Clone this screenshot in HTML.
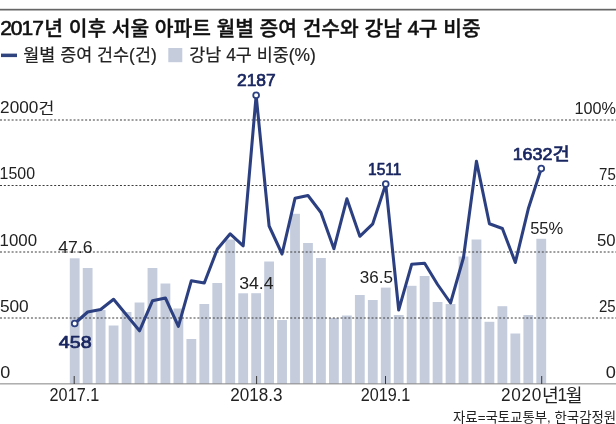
<!DOCTYPE html>
<html lang="ko"><head><meta charset="utf-8"><title>2017년 이후 서울 아파트 월별 증여 건수와 강남 4구 비중</title>
<style>html,body{margin:0;padding:0;background:#fff;overflow:hidden}svg{display:block}text{font-family:"Liberation Sans", "Noto Sans CJK KR", sans-serif;fill:#222}.b{font-weight:500;fill:#111;stroke:#111;stroke-width:.35px;stroke-linejoin:round}.td{font-weight:400;stroke-width:.6px}.l{stroke:#222;stroke-width:.2px}.n{fill:#192660;stroke:#192660;font-weight:500;stroke-width:.7px;stroke-linejoin:round}.nh{stroke-width:.4px}</style></head><body>
<svg width="616" height="424" viewBox="0 0 616 424" role="img" aria-label="2017년 이후 서울 아파트 월별 증여 건수와 강남 4구 비중">
<rect width="616" height="424" fill="#fff"/>
<rect x="0" y="8.8" width="616" height="1.7" fill="#666"/>
<rect x="1" y="53.6" width="16" height="3.5" fill="#30457f"/>
<rect x="168.3" y="48" width="14" height="14.2" fill="#c5cddd"/>
<rect x="69.80" y="258.30" width="9.80" height="125.70" fill="#c5cddd"/>
<rect x="82.76" y="268.00" width="9.80" height="116.00" fill="#c5cddd"/>
<rect x="95.72" y="310.00" width="9.80" height="74.00" fill="#c5cddd"/>
<rect x="108.68" y="325.50" width="9.80" height="58.50" fill="#c5cddd"/>
<rect x="121.64" y="312.00" width="9.80" height="72.00" fill="#c5cddd"/>
<rect x="134.60" y="302.50" width="9.80" height="81.50" fill="#c5cddd"/>
<rect x="147.56" y="268.00" width="9.80" height="116.00" fill="#c5cddd"/>
<rect x="160.52" y="283.50" width="9.80" height="100.50" fill="#c5cddd"/>
<rect x="173.48" y="308.50" width="9.80" height="75.50" fill="#c5cddd"/>
<rect x="186.44" y="339.00" width="9.80" height="45.00" fill="#c5cddd"/>
<rect x="199.40" y="304.00" width="9.80" height="80.00" fill="#c5cddd"/>
<rect x="212.36" y="283.00" width="9.80" height="101.00" fill="#c5cddd"/>
<rect x="225.32" y="239.50" width="9.80" height="144.50" fill="#c5cddd"/>
<rect x="238.28" y="293.30" width="9.80" height="90.70" fill="#c5cddd"/>
<rect x="251.24" y="293.20" width="9.80" height="90.80" fill="#c5cddd"/>
<rect x="264.20" y="261.50" width="9.80" height="122.50" fill="#c5cddd"/>
<rect x="277.16" y="320.00" width="9.80" height="64.00" fill="#c5cddd"/>
<rect x="290.12" y="213.80" width="9.80" height="170.20" fill="#c5cddd"/>
<rect x="303.08" y="243.00" width="9.80" height="141.00" fill="#c5cddd"/>
<rect x="316.04" y="258.00" width="9.80" height="126.00" fill="#c5cddd"/>
<rect x="329.00" y="318.00" width="9.80" height="66.00" fill="#c5cddd"/>
<rect x="341.96" y="315.50" width="9.80" height="68.50" fill="#c5cddd"/>
<rect x="354.92" y="295.00" width="9.80" height="89.00" fill="#c5cddd"/>
<rect x="367.88" y="300.00" width="9.80" height="84.00" fill="#c5cddd"/>
<rect x="380.84" y="287.60" width="9.80" height="96.40" fill="#c5cddd"/>
<rect x="393.80" y="315.00" width="9.80" height="69.00" fill="#c5cddd"/>
<rect x="406.76" y="285.80" width="9.80" height="98.20" fill="#c5cddd"/>
<rect x="419.72" y="276.00" width="9.80" height="108.00" fill="#c5cddd"/>
<rect x="432.68" y="302.00" width="9.80" height="82.00" fill="#c5cddd"/>
<rect x="445.64" y="304.00" width="9.80" height="80.00" fill="#c5cddd"/>
<rect x="458.60" y="256.50" width="9.80" height="127.50" fill="#c5cddd"/>
<rect x="471.56" y="239.50" width="9.80" height="144.50" fill="#c5cddd"/>
<rect x="484.52" y="321.80" width="9.80" height="62.20" fill="#c5cddd"/>
<rect x="497.48" y="306.20" width="9.80" height="77.80" fill="#c5cddd"/>
<rect x="510.44" y="333.50" width="9.80" height="50.50" fill="#c5cddd"/>
<rect x="523.40" y="315.00" width="9.80" height="69.00" fill="#c5cddd"/>
<rect x="536.36" y="238.80" width="9.80" height="145.20" fill="#c5cddd"/>
<line x1="0" x2="616" y1="318.0" y2="318.0" stroke="#3c3c3c" stroke-width="1" stroke-dasharray="2 1.87"/>
<line x1="0" x2="616" y1="252.0" y2="252.0" stroke="#3c3c3c" stroke-width="1" stroke-dasharray="2 1.87"/>
<line x1="0" x2="616" y1="185.5" y2="185.5" stroke="#3c3c3c" stroke-width="1" stroke-dasharray="2 1.87"/>
<line x1="0" x2="616" y1="120.0" y2="120.0" stroke="#3c3c3c" stroke-width="1" stroke-dasharray="2 1.87"/>
<rect x="0" y="383.3" width="616" height="1.1" fill="#8e8e8e"/>
<rect x="73.7" y="376" width="1" height="8" fill="#3a3a3a"/>
<rect x="256.1" y="376" width="1" height="8" fill="#3a3a3a"/>
<rect x="385.0" y="376" width="1" height="8" fill="#3a3a3a"/>
<rect x="541.2" y="376" width="1" height="8" fill="#3a3a3a"/>
<polyline points="74.70,323.50 87.66,312.00 100.62,309.50 113.58,299.30 126.54,315.00 139.50,330.80 152.46,300.80 165.42,298.00 178.38,326.30 191.34,280.70 204.30,283.00 217.26,249.30 230.22,233.80 243.18,245.80 256.14,95.30 269.10,226.00 282.06,254.00 295.02,198.30 307.98,195.50 320.94,212.50 333.90,248.80 346.86,198.80 359.82,236.30 372.78,223.80 385.74,184.10 398.70,310.00 411.66,264.30 424.62,263.30 437.58,284.50 450.54,303.00 463.50,257.50 476.46,161.30 489.42,223.80 502.38,228.50 515.34,262.50 528.30,208.80 541.26,168.60" fill="none" stroke="#2c4081" stroke-width="3.05" stroke-linejoin="round" stroke-linecap="round"/>
<circle cx="74.70" cy="323.50" r="2.9" fill="#fff" stroke="#2c4081" stroke-width="1.8"/>
<circle cx="256.14" cy="95.30" r="2.9" fill="#fff" stroke="#2c4081" stroke-width="1.8"/>
<circle cx="385.74" cy="184.10" r="2.9" fill="#fff" stroke="#2c4081" stroke-width="1.8"/>
<circle cx="541.26" cy="168.60" r="2.9" fill="#fff" stroke="#2c4081" stroke-width="1.8"/>
<text id="title" class="b" transform="translate(0.14 35.90) scale(1.0143 1)" font-size="20.05"><tspan class="td" font-size="20.8" dy="-1.3" letter-spacing="-1">201</tspan><tspan class="td" font-size="20.8" letter-spacing="0.3">7</tspan><tspan dy="1.3">년</tspan> 이후 서울 아파트 월별 증여 건수와 강남 <tspan class="td" font-size="20.8" dy="-1.3" letter-spacing="-0.4">4</tspan><tspan dy="1.3">구</tspan> 비중</text>
<text id="lg1" class="l" transform="translate(23.25 61.30) scale(0.9964 1)" font-size="17.5">월별 증여 건수(건)</text>
<text id="lg2" class="l" transform="translate(189.25 61.30) scale(0.9954 1)" font-size="17.5">강남 4구 비중(%)</text>
<text id="yl0" transform="translate(0.18 377.70) scale(1.1525 1)" font-size="15.6">0</text>
<text id="yl1" transform="translate(-0.09 311.60) scale(1.1071 1)" font-size="15.6">500</text>
<text id="yl2" transform="translate(-0.45 245.50) scale(1.0798 1)" font-size="15.6">1000</text>
<text id="yl3" transform="translate(-0.38 179.40) scale(1.0221 1)" font-size="15.6">1500</text>
<text id="yl4" transform="translate(0.07 113.20) scale(1.1021 1)" font-size="15.6">2000<tspan dy="0.5" font-size="16">건</tspan></text>
<text id="yr0" transform="translate(605.67 378.30) scale(1.1661 1)" font-size="15.6">0</text>
<text id="yr1" transform="translate(598.88 312.20) scale(0.9625 1)" font-size="15.6">25</text>
<text id="yr2" transform="translate(597.03 246.10) scale(1.0729 1)" font-size="15.6">50</text>
<text id="yr3" transform="translate(599.08 180.00) scale(0.9625 1)" font-size="15.6">75</text>
<text id="yr4" transform="translate(574.60 113.60) scale(1.0387 1)" font-size="15.6">100%</text>
<text id="x0" transform="translate(49.62 401.20) scale(0.9200 1)" font-size="17.6">2017.1</text>
<text id="x1" transform="translate(230.25 401.20) scale(0.9707 1)" font-size="17.6">2018.3</text>
<text id="x2" transform="translate(360.72 401.20) scale(0.9200 1)" font-size="17.6">2019.1</text>
<text id="x3" transform="translate(500.94 401.40) scale(0.9798 1)" font-size="17.6"><tspan letter-spacing="0.7">2020</tspan><tspan dy="0.8" font-size="18.6" letter-spacing="-1.4">년</tspan><tspan dy="-0.8" letter-spacing="-1.3">1</tspan><tspan dy="0.8" font-size="18.6">월</tspan></text>
<text id="src" transform="translate(453.00 421.70) scale(0.9932 1)" font-size="13.5">자료=국토교통부, 한국감정원</text>
<text id="d0" class="n" transform="translate(58.80 347.90) scale(1.1640 1)" font-size="16.9">458</text>
<text id="d1" class="n" transform="translate(236.98 85.90) scale(1.0321 1)" font-size="16.9">2187</text>
<text id="d2" class="n" transform="translate(368.09 175.20) scale(0.9200 1)" font-size="16.9">1511</text>
<text id="d3" class="n" transform="translate(512.64 159.50) scale(1.0628 1)" font-size="16.9">1632<tspan class="nh" dy="0.5" font-size="17.6">건</tspan></text>
<text id="p0" transform="translate(58.31 252.90) scale(1.0394 1)" font-size="16.9">47.6</text>
<text id="p1" transform="translate(239.15 289.00) scale(1.0457 1)" font-size="16.9">34.4</text>
<text id="p2" transform="translate(359.87 282.60) scale(1.0095 1)" font-size="16.9">36.5</text>
<text id="p3" transform="translate(530.17 234.10) scale(0.9785 1)" font-size="16.9">55%</text>
</svg></body></html>
